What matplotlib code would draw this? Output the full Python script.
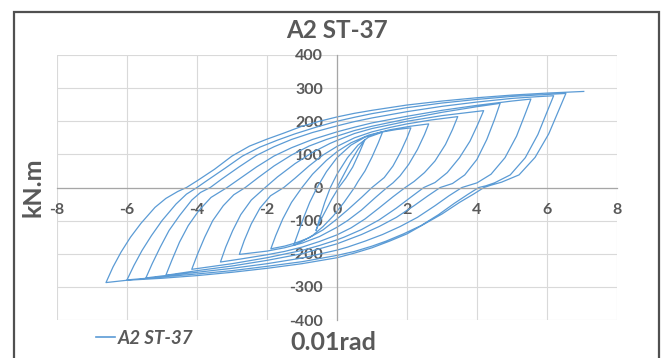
import matplotlib
matplotlib.use("Agg")
import matplotlib.pyplot as plt
from matplotlib.patches import Rectangle
from matplotlib.lines import Line2D

# ---------------- text / axes values ----------------
title = "A2 ST-37"
series_name = "A2 ST-37"
x_label = "0.01rad"
y_label = "kN.m"
x_ticks = [-8, -6, -4, -2, 0, 2, 4, 6, 8]
y_ticks = [-400, -300, -200, -100, 0, 100, 200, 300, 400]

# ---------------- hysteresis branches (rotation 0.01rad, moment kN.m) ----------------
load0 = [(0, 0), (0.2, 40), (0.4, 80), (0.6, 115), (0.8, 145)]
down1 = [(0.65, 108), (0.45, 62), (0.25, 28), (0.05, 0), (-0.15, -35), (-0.35, -75), (-0.5, -105), (-0.6, -130)]
up1 = [(-0.5, -95), (-0.35, -45), (-0.19, 0), (0.0, 40), (0.3, 90), (0.6, 128), (0.9, 152), (1.3, 167)]
down2 = [(1.18, 135), (1.0, 92), (0.8, 50), (0.6, 18), (0.5, 0), (0.2, -45), (-0.1, -85), (-0.4, -118),
         (-0.7, -145), (-1.0, -163), (-1.24, -175)]
up2 = [(-1.12, -140), (-0.95, -90), (-0.78, -45), (-0.57, 0), (-0.3, 48), (0.0, 90), (0.4, 128), (0.8, 152),
       (1.26, 167), (1.7, 175), (2.11, 180)]
down3 = [(2.0, 150), (1.82, 108), (1.6, 65), (1.35, 30), (1.0, 0), (0.7, -30), (0.3, -68), (0.0, -95),
         (-0.4, -128), (-0.8, -152), (-1.2, -168), (-1.5, -177), (-1.89, -185)]
up3 = [(-1.75, -145), (-1.55, -95), (-1.3, -45), (-1.0, 0), (-0.7, 40), (-0.3, 82), (0.0, 108), (0.4, 135),
       (0.9, 158), (1.5, 174), (2.1, 185), (2.62, 192)]
down4 = [(2.5, 160), (2.3, 115), (2.05, 70), (1.8, 35), (1.6, 14), (1.43, 0), (1.1, -30), (0.7, -68),
         (0.3, -100), (0.0, -120), (-0.5, -148), (-1.0, -168), (-1.5, -182), (-2.0, -192), (-2.79, -202)]
up4 = [(-2.65, -160), (-2.45, -110), (-2.2, -62), (-1.9, -25), (-1.52, 0), (-1.2, 28), (-0.8, 65), (-0.4, 98),
       (0.0, 124), (0.5, 150), (1.0, 168), (1.5, 181), (2.0, 192), (2.7, 204), (3.45, 214)]
down5 = [(3.3, 175), (3.1, 130), (2.8, 80), (2.5, 45), (2.2, 18), (1.95, 0), (1.6, -28), (1.2, -62), (0.8, -95),
         (0.4, -122), (0.0, -143), (-0.5, -163), (-1.0, -180), (-1.5, -193), (-2.0, -203), (-2.7, -215),
         (-3.33, -225)]
up5 = [(-3.18, -180), (-2.98, -130), (-2.75, -82), (-2.45, -38), (-2.05, 0), (-1.7, 32), (-1.2, 72),
       (-0.7, 106), (-0.2, 133), (0.0, 142), (0.5, 163), (1.0, 178), (2.0, 200), (3.0, 217), (4.19, 232)]
down6 = [(4.02, 190), (3.8, 140), (3.5, 90), (3.15, 45), (2.8, 15), (2.48, 0), (2.1, -30), (1.7, -62),
         (1.2, -98), (0.7, -127), (0.2, -150), (0.0, -158), (-0.5, -175), (-1.0, -190), (-2.0, -212),
         (-3.0, -230), (-4.15, -247)]
up6 = [(-3.98, -200), (-3.78, -150), (-3.55, -100), (-3.25, -55), (-2.95, -22), (-2.62, 0), (-2.25, 30),
       (-1.8, 65), (-1.3, 98), (-0.8, 125), (-0.3, 145), (0.0, 155), (0.5, 172), (1.0, 185), (2.0, 207),
       (3.0, 227), (4.0, 244), (4.66, 254)]
down7 = [(4.5, 205), (4.28, 145), (4.0, 85), (3.65, 38), (3.3, 12), (2.95, 0), (2.6, -25), (2.2, -55),
         (1.7, -90), (1.2, -118), (0.7, -142), (0.2, -162), (0.0, -170), (-1.0, -200), (-2.0, -220),
         (-3.0, -237), (-4.0, -251), (-4.89, -265)]
up7 = [(-4.72, -220), (-4.5, -165), (-4.25, -115), (-3.95, -70), (-3.6, -30), (-3.14, 0), (-2.8, 25),
       (-2.3, 62), (-1.8, 95), (-1.3, 120), (-0.7, 145), (0.0, 168), (0.5, 182), (1.0, 195), (2.0, 215),
       (3.0, 233), (4.0, 248), (5.0, 261), (5.54, 267)]
down8 = [(5.37, 220), (5.13, 155), (4.8, 90), (4.4, 40), (4.0, 14), (3.57, 0), (3.2, -25), (2.8, -55),
         (2.3, -90), (1.8, -118), (1.3, -142), (0.8, -162), (0.3, -180), (0.0, -189), (-1.0, -213),
         (-2.0, -230), (-3.0, -244), (-4.0, -256), (-5.0, -267), (-5.46, -273)]
up8 = [(-5.28, -230), (-5.05, -180), (-4.8, -130), (-4.5, -85), (-4.15, -38), (-3.9, -15), (-3.62, 0),
       (-3.3, 25), (-2.8, 62), (-2.3, 97), (-1.8, 123), (-1.3, 145), (-0.7, 166), (0.0, 186), (0.5, 199),
       (1.0, 210), (2.0, 229), (3.0, 245), (4.0, 258), (5.0, 269), (5.7, 274), (6.19, 277)]
down9 = [(6.0, 228), (5.74, 160), (5.38, 90), (4.95, 38), (4.5, 14), (4.25, 5), (4.05, 0), (3.75, -20),
         (3.35, -48), (2.9, -82), (2.4, -115), (1.9, -140), (1.4, -162), (1.0, -177), (0.5, -193),
         (0.0, -205), (-1.0, -224), (-2.0, -238), (-3.0, -251), (-4.0, -261), (-5.0, -270), (-6.0, -279)]
up9 = [(-5.8, -235), (-5.57, -190), (-5.3, -145), (-5.0, -100), (-4.6, -50), (-4.3, -20), (-4.0, 0),
       (-3.7, 22), (-3.2, 58), (-2.7, 95), (-2.2, 122), (-1.7, 143), (-1.2, 162), (-0.6, 182), (0.0, 200),
       (0.5, 212), (1.0, 223), (2.0, 241), (3.0, 255), (4.0, 266), (5.0, 275), (6.0, 281), (6.54, 284)]
down10 = [(6.33, 232), (6.05, 162), (5.66, 91), (5.2, 38), (4.7, 16), (4.4, 7), (4.2, 0), (3.9, -20),
          (3.5, -45), (3.0, -80), (2.5, -110), (2.0, -140), (1.5, -162), (1.0, -182), (0.5, -198),
          (0.0, -212), (-1.0, -230), (-2.0, -244), (-3.0, -256), (-4.0, -266), (-5.0, -274), (-6.0, -280),
          (-6.6, -287)]
up10 = [(-6.4, -240), (-6.17, -195), (-5.9, -150), (-5.6, -108), (-5.2, -60), (-4.89, -33), (-4.55, -12),
        (-4.3, 0), (-4.0, 20), (-3.5, 55), (-3.0, 95), (-2.5, 125), (-2.0, 146), (-1.5, 165), (-1.0, 185),
        (-0.5, 200), (0.0, 213), (0.5, 224), (1.0, 233), (2.0, 249), (3.0, 261), (4.0, 271), (5.0, 279),
        (6.0, 285), (7.05, 290)]

branches = [load0, down1, up1, down2, up2, down3, up3, down4, up4, down5, up5,
            down6, up6, down7, up7, down8, up8, down9, up9, down10, up10]
path = [p for b in branches for p in b]
xs = [p[0] for p in path]
ys = [p[1] for p in path]

# ---------------- figure ----------------
W, H = 662, 358
fig = plt.figure(figsize=(W / 100, H / 100), dpi=100)
fig.patch.set_facecolor("white")

ax = fig.add_axes([57 / W, 38 / H, 560 / W, 265 / H])
line_color = "#5B9BD5"
text_color = "#595959"
ax.plot(xs, ys, color=line_color, lw=0.9, solid_joinstyle="round")

ax.set_xlim(-8, 8)
ax.set_ylim(-400, 400)
ax.set_xticks(x_ticks)
ax.set_yticks(y_ticks)
ax.set_xticklabels([str(t) for t in x_ticks])
ax.set_yticklabels([str(t) for t in y_ticks])
ax.grid(True, color="#D9D9D9", lw=0.8)
for s in ["top", "right"]:
    ax.spines[s].set_visible(False)
ax.spines["left"].set_position(("data", 0))
ax.spines["bottom"].set_position(("data", 0))
for s in ["left", "bottom"]:
    ax.spines[s].set_color("#A6A6A6")
    ax.spines[s].set_linewidth(0.9)

tick_font = dict(family="Lato", weight="bold", size=11.5)
ax.tick_params(axis="both", length=0, colors=text_color)
ax.tick_params(axis="x", pad=11)
ax.tick_params(axis="y", pad=10)
for lab in ax.get_xticklabels() + ax.get_yticklabels():
    lab.set_fontfamily("Lato")
    lab.set_fontweight("bold")
    lab.set_fontsize(11.5)
    lab.set_color(text_color)

fig.text(337 / W, 1 - 30 / H, title, ha="center", va="center", family="Lato",
         weight="bold", size=17.5, color=text_color)
fig.text(33 / W, 1 - 187 / H, y_label, ha="center", va="center", rotation=90, family="Lato",
         weight="bold", size=18, color=text_color)
fig.text(333 / W, 1 - 343 / H, x_label, ha="center", va="center", family="Lato",
         weight="bold", size=18, color=text_color)

handle = Line2D([0], [0], color=line_color, lw=1.2)
leg = fig.legend([handle], [series_name], loc="center left",
                 bbox_to_anchor=(96 / W, 1 - 338 / H), frameon=False,
                 handlelength=1.0, handletextpad=0.15, borderaxespad=0, borderpad=0,
                 prop=dict(family="Lato", weight="bold", style="italic", size=13.5))
for t in leg.get_texts():
    t.set_color(text_color)

fig.add_artist(Rectangle((14 / W, -0.1), (659 - 14) / W, 1.1 - 12 / H, transform=fig.transFigure,
                         fill=False, ec="#505050", lw=1.6))

fig.savefig("out.png", dpi=100)
